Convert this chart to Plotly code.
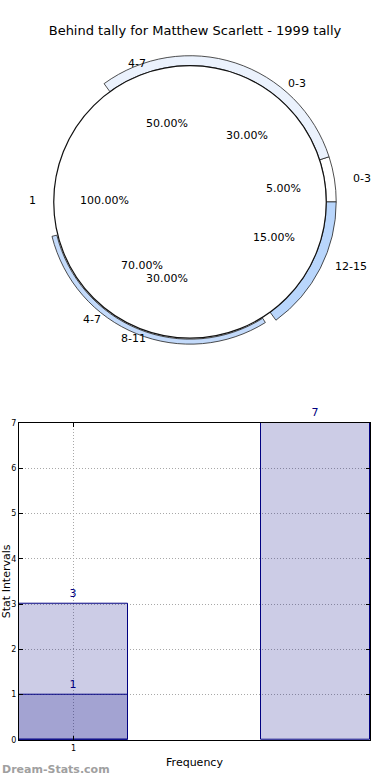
import plotly.graph_objects as go

# ---------------- data ----------------
chart_title = "Behind tally for Matthew Scarlett - 1999 tally"

inner_labels = ["1"]
inner_values = [100]

ring1_labels = ["0-3", "0-3", "4-7", "12-15"]
ring1_values = [5, 30, 50, 15]

ring2_labels = ["8-11", "4-7"]
ring2_values = [30, 70]

bar_x = [1, 3]
bar_totals = [3, 7]
bar_sub_x = [1]
bar_sub_values = [1]
x_tick_vals = [1]
x_tick_text = ["1"]
y_tick_vals = [0, 1, 2, 3, 4, 5, 6, 7]

# ---------------- layout helpers ----------------
W, H = 390, 780
ML, MR, MT, MB = 19, 20, 0, 40
PW, PH = W - ML - MR, H - MT - MB
FONT = "DejaVu Sans"


def px(x):
    return (x - ML) / PW


def py(y):
    return (PH + MT - y) / PH


def dom(cx, cy, r):
    return dict(x=[px(cx - r), px(cx + r)], y=[py(cy + r), py(cy - r)])


CX, CY = 190, 199
R_IN, R_OUT = 137, 147

fig = go.Figure()

# outer ring 1: first slice starts at 3 o'clock and runs counter-clockwise
# (plotly puts the first ccw slice clockwise of `rotation`, so offset by its size)
ring1_rotation = 90 - 360 * ring1_values[0] / sum(ring1_values)
fig.add_trace(go.Pie(
    labels=[f"{l} #{i}" for i, l in enumerate(ring1_labels)],
    values=ring1_values, sort=False, direction="counterclockwise", rotation=ring1_rotation,
    hole=R_IN / R_OUT, domain=dom(CX, CY, R_OUT), textinfo="none",
    marker=dict(colors=["#ffffff", "#ebf2fd", "rgba(0,0,0,0)", "#b9d6fc"],
                line=dict(color=["#222", "#222", "rgba(0,0,0,0)", "#222"], width=0.8)),
    showlegend=False, hoverinfo="skip"))

# outer ring 2 (clockwise, starting just below the 12-15 band)
fig.add_trace(go.Pie(
    labels=[f"{l} #b{i}" for i, l in enumerate(ring2_labels)],
    values=ring2_values, sort=False, direction="clockwise", rotation=148,
    hole=(R_IN + 1) / (R_OUT - 4), domain=dom(CX, CY, R_OUT - 4), textinfo="none",
    marker=dict(colors=["#c3dafa", "rgba(0,0,0,0)"],
                line=dict(color=["#222", "rgba(0,0,0,0)"], width=0.8)),
    showlegend=False, hoverinfo="skip"))

# inner disk
fig.add_trace(go.Pie(
    labels=inner_labels, values=inner_values, sort=False, domain=dom(CX, CY, R_IN),
    textinfo="none",
    marker=dict(colors=["#ffffff"], line=dict(color="#111", width=1.2)),
    showlegend=False, hoverinfo="skip"))

# ---------------- pie text ----------------
pie_label_pos = [(362, 175), (297, 80), (137, 60), (351, 264)]
pie_pct_pos = [(283, 185), (247, 132), (167, 120), (274, 235)]
ring2_label_pos = [(133, 336), (92, 317)]
ring2_pct_pos = [(167, 276), (142, 263)]
inner_label_pos = [(32, 198)]
inner_pct_pos = [(104, 198)]

annotations = []


def add_txt(t, pos, size=11, color="#000"):
    annotations.append(dict(text=t, x=px(pos[0]), y=py(pos[1]), xref="paper", yref="paper",
                            showarrow=False, xanchor="center", yanchor="middle",
                            font=dict(family=FONT, size=size, color=color)))


for labels, values, lpos, ppos in [
    (ring1_labels, ring1_values, pie_label_pos, pie_pct_pos),
    (ring2_labels, ring2_values, ring2_label_pos, ring2_pct_pos),
    (inner_labels, inner_values, inner_label_pos, inner_pct_pos),
]:
    total = sum(values)
    for lab, v, lp, pp in zip(labels, values, lpos, ppos):
        add_txt(lab, lp)
        add_txt(f"{100 * v / total:.2f}%", pp)

# ---------------- bars ----------------
bar_style = dict(color="rgba(0,0,128,0.2)", line=dict(color="#000080", width=1))
fig.add_trace(go.Bar(x=bar_x, y=bar_totals, width=0.9, marker=bar_style,
                     text=[str(v) for v in bar_totals], textposition="outside",
                     textfont=dict(family=FONT, size=11, color="#000080"),
                     cliponaxis=False, showlegend=False, hoverinfo="skip"))
fig.add_trace(go.Bar(x=bar_sub_x, y=bar_sub_values, width=0.9, marker=bar_style,
                     text=[str(v) for v in bar_sub_values], textposition="outside",
                     textfont=dict(family=FONT, size=11, color="#000080"),
                     cliponaxis=False, showlegend=False, hoverinfo="skip"))

annotations.append(dict(text="<b>Dream-Stats.com</b>", x=px(0), y=py(770), xref="paper", yref="paper",
                        showarrow=False, xanchor="left", yanchor="middle",
                        font=dict(family=FONT, size=11, color="#a0a0a0")))

axis_common = dict(showline=True, linecolor="#000", linewidth=1, mirror="ticks",
                   ticks="inside", ticklen=4, tickcolor="#000", zeroline=False,
                   showgrid=True, gridcolor="#a8a8a8", griddash="1px,2px", gridwidth=1,
                   tickfont=dict(family=FONT, size=8, color="#000"))

fig.update_layout(
    width=W, height=H, margin=dict(l=ML, r=MR, t=MT, b=MB),
    paper_bgcolor="#fff", plot_bgcolor="#fff",
    barmode="overlay", bargap=0,
    title=dict(text=chart_title, x=0.5, xref="container", y=1 - 30 / H, yref="container",
               yanchor="middle", font=dict(family=FONT, size=13, color="#000")),
    xaxis=dict(domain=[0, 1], range=[0.55, 3.45], tickvals=x_tick_vals, ticktext=x_tick_text,
               title=dict(text="Frequency", font=dict(family=FONT, size=11, color="#000"), standoff=6),
               **axis_common),
    yaxis=dict(domain=[0, py(421)], range=[0, 7], tickvals=y_tick_vals,
               title=dict(text="Stat Intervals", font=dict(family=FONT, size=11, color="#000"), standoff=2),
               **axis_common),
    annotations=annotations,
    uniformtext=dict(minsize=11, mode="show"),
)

fig.write_html("out.html", config={"displayModeBar": False},
               post_script="document.body.style.margin='0';")
